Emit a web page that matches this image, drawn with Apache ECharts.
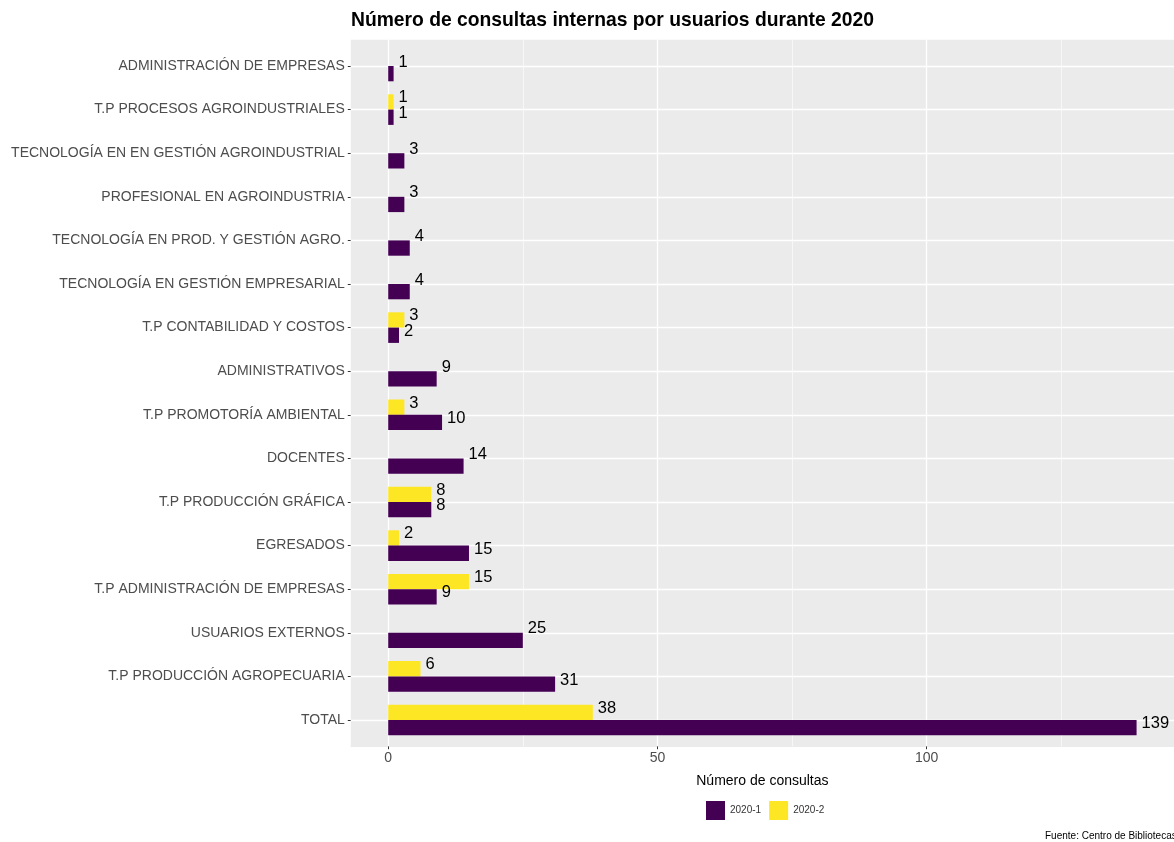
<!DOCTYPE html>
<html>
<head>
<meta charset="utf-8">
<script src="https://cdn.jsdelivr.net/npm/echarts@6/dist/echarts.min.js"></script>
<style>html,body{margin:0;padding:0;background:#fff}#c{width:1174px;height:842px}</style>
</head>
<body>
<div id="c"></div>
<script>
const categories = [
  'ADMINISTRACIÓN DE EMPRESAS',
  'T.P PROCESOS AGROINDUSTRIALES',
  'TECNOLOGÍA EN EN GESTIÓN AGROINDUSTRIAL',
  'PROFESIONAL EN AGROINDUSTRIA',
  'TECNOLOGÍA EN PROD. Y GESTIÓN AGRO.',
  'TECNOLOGÍA EN GESTIÓN EMPRESARIAL',
  'T.P CONTABILIDAD Y COSTOS',
  'ADMINISTRATIVOS',
  'T.P PROMOTORÍA AMBIENTAL',
  'DOCENTES',
  'T.P PRODUCCIÓN GRÁFICA',
  'EGRESADOS',
  'T.P ADMINISTRACIÓN DE EMPRESAS',
  'USUARIOS EXTERNOS',
  'T.P PRODUCCIÓN AGROPECUARIA',
  'TOTAL'
];
const s2020_1 = [1, 1, 3, 3, 4, 4, 2, 9, 10, 14, 8, 15, 9, 25, 31, 139];
const s2020_2 = [null, 1, null, null, null, null, 3, null, 3, null, 8, 2, 15, null, 6, 38];
const xTicks = [0, 50, 100];
const xMinor = [25, 75, 125];
const seriesNames = ['2020-1', '2020-2'];

const FONT = 'Liberation Sans, Arial, Helvetica, sans-serif';
const xMin = -6.95, xMax = 145.95;

const lines = [];
xTicks.forEach(v => lines.push({xAxis: v, lineStyle: {color: '#fff', width: 1.3, type: 'solid'}}));
xMinor.forEach(v => lines.push({xAxis: v, lineStyle: {color: '#fff', width: 0.6, type: 'solid'}}));
categories.forEach((c, i) => lines.push({yAxis: i, lineStyle: {color: '#fff', width: 1.3, type: 'solid'}}));

function items(vals, other) {
  return vals.map((v, i) => {
    if (v == null) return {value: '-'};
    const single = other[i] == null;
    return {value: v, label: {offset: [0, single ? -11.5 : -4]}};
  });
}

const chart = echarts.init(document.getElementById('c'), null, {renderer: 'canvas'});
chart.setOption({
  animation: false,
  backgroundColor: '#fff',
  textStyle: {fontFamily: FONT},
  title: {
    text: 'Número de consultas internas por usuarios durante 2020',
    left: 351, top: 11, padding: 0,
    textStyle: {fontFamily: FONT, fontSize: 19.3, fontWeight: 'bold', color: '#000'}
  },
  legend: {
    data: seriesNames,
    left: 706, top: 801,
    itemWidth: 19, itemHeight: 19, itemGap: 8,
    icon: 'rect',
    padding: 0,
    textStyle: {fontFamily: FONT, fontSize: 10, color: '#333'}
  },
  grid: [
    {left: 350.8, top: 39.8, width: 825.7, height: 706.4, show: true, backgroundColor: '#EBEBEB', borderWidth: 0},
    {left: 350.8, top: 44.2, width: 825.7, height: 697.6}
  ],
  xAxis: [
    {
      gridIndex: 0, type: 'value', min: xMin, max: xMax,
      axisLine: {show: true, onZero: false, lineStyle: {color: '#EBEBEB', width: 1}},
      splitLine: {show: false},
      axisTick: {show: true, length: 3, lineStyle: {color: '#333', width: 1}, customValues: xTicks},
      axisLabel: {fontFamily: FONT, fontSize: 14, color: '#4D4D4D', margin: 5, customValues: xTicks},
      name: 'Número de consultas', nameLocation: 'middle', nameGap: 28,
      nameTextStyle: {fontFamily: FONT, fontSize: 14, color: '#000'}
    },
    {gridIndex: 1, type: 'value', min: xMin, max: xMax, show: false}
  ],
  yAxis: [
    {gridIndex: 0, type: 'value', min: -0.6, max: 15.6, inverse: true, show: false},
    {
      gridIndex: 1, type: 'category', data: categories, inverse: true,
      axisLine: {show: true, onZero: false, lineStyle: {color: '#EBEBEB', width: 1}},
      axisTick: {show: true, alignWithLabel: true, length: 3, lineStyle: {color: '#333', width: 1}},
      axisLabel: {fontFamily: FONT, fontSize: 14, color: '#4D4D4D', margin: 6},
      splitLine: {show: false}
    }
  ],
  series: [
    {
      type: 'scatter', xAxisIndex: 0, yAxisIndex: 0, data: [], silent: true, z: 0,
      markLine: {silent: true, symbol: 'none', z: 1, animation: false, label: {show: false}, data: lines}
    },
    {
      name: seriesNames[1], type: 'bar', xAxisIndex: 1, yAxisIndex: 1,
      data: items(s2020_2, s2020_1),
      barWidth: 15.3, barGap: '0%', z: 3,
      itemStyle: {color: '#FDE725'},
      label: {show: true, position: 'right', distance: 5, fontFamily: FONT, fontSize: 16.5, color: '#000'}
    },
    {
      name: seriesNames[0], type: 'bar', xAxisIndex: 1, yAxisIndex: 1,
      data: items(s2020_1, s2020_2),
      barWidth: 15.3, barGap: '0%', z: 3,
      itemStyle: {color: '#440154'},
      label: {show: true, position: 'right', distance: 5, fontFamily: FONT, fontSize: 16.5, color: '#000'}
    }
  ],
  graphic: [
    {type: 'text', left: 1045, top: 831, style: {text: 'Fuente: Centro de Bibliotecas', fontFamily: FONT, fontSize: 10, fill: '#000'}}
  ]
});
</script>
</body>
</html>
